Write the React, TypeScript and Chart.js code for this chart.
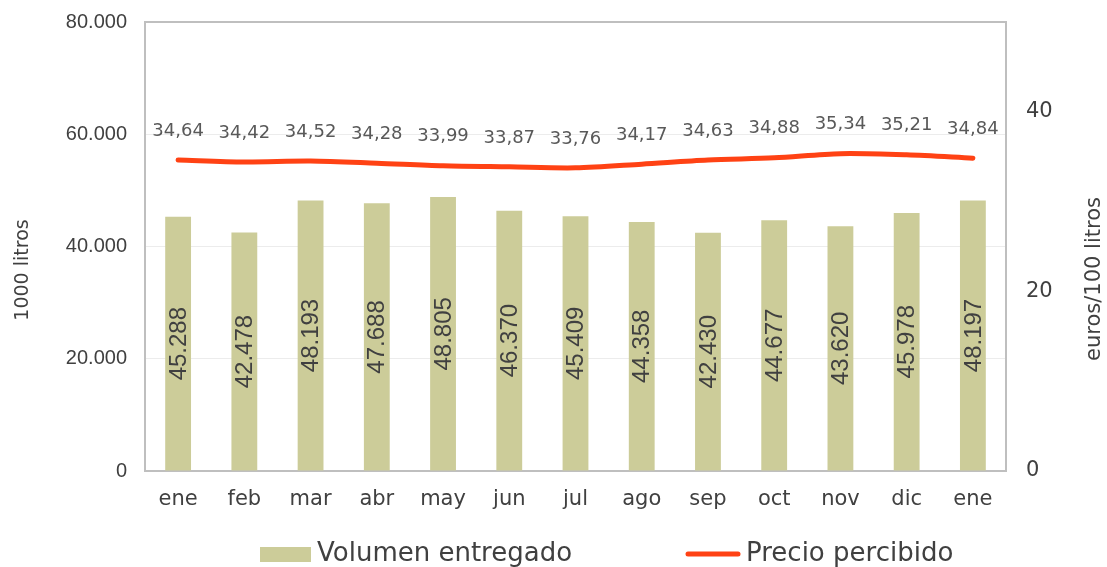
import React, { useEffect, useRef } from "react";
import { Chart, registerables } from "chart.js";

Chart.register(...registerables);

const months = ["ene", "feb", "mar", "abr", "may", "jun", "jul", "ago", "sep", "oct", "nov", "dic", "ene"];
const volumen = [45288, 42478, 48193, 47688, 48805, 46370, 45409, 44358, 42430, 44677, 43620, 45978, 48197];
const precio = [34.64, 34.42, 34.52, 34.28, 33.99, 33.87, 33.76, 34.17, 34.63, 34.88, 35.34, 35.21, 34.84];
const leftTicks = [0, 20000, 40000, 60000, 80000];
const rightTicks = [0, 20, 40];
const seriesNames = ["Volumen entregado", "Precio percibido"];
const axisTitles = ["1000 litros", "euros/100 litros"];

const BAR_COLOR = "#cccc99";
const LINE_COLOR = "#ff4214";
const TEXT = "#404040";
const BORDER = "#bfbfbf";
const GRID = "#ececec";

const fmtThousands = (n: number) => String(n).replace(/\B(?=(\d{3})+(?!\d))/g, ".");
const fmtDecimal = (n: number) => n.toFixed(2).replace(".", ",");

const extrasPlugin = {
  id: "extras",
  afterDatasetsDraw(chart: any) {
    const ctx = chart.ctx;
    ctx.save();
    const barMeta = chart.getDatasetMeta(0);
    ctx.fillStyle = TEXT;
    ctx.font = "24px 'Liberation Sans'";
    ctx.textAlign = "center";
    ctx.textBaseline = "middle";
    barMeta.data.forEach((el: any, i: number) => {
      const { x, y, base } = el.getProps(["x", "y", "base"], true);
      ctx.save();
      ctx.translate(x, (y + base) / 2);
      ctx.rotate(-Math.PI / 2);
      ctx.fillText(fmtThousands(volumen[i]), 0, 1);
      ctx.restore();
    });
    const lineMeta = chart.getDatasetMeta(1);
    ctx.fillStyle = "#595959";
    ctx.font = "18px 'DejaVu Sans'";
    lineMeta.data.forEach((el: any, i: number) => {
      ctx.fillText(fmtDecimal(precio[i]), el.x, el.y - 29);
    });
    ctx.restore();
  },
  afterDraw(chart: any) {
    const ctx = chart.ctx;
    ctx.save();
    ctx.fillStyle = TEXT;
    ctx.textAlign = "center";
    ctx.textBaseline = "middle";
    ctx.save();
    ctx.translate(23, 270);
    ctx.rotate(-Math.PI / 2);
    ctx.font = "19px 'DejaVu Sans'";
    ctx.fillText(axisTitles[0], 0, 0);
    ctx.restore();
    ctx.save();
    ctx.translate(1095, 279);
    ctx.rotate(-Math.PI / 2);
    ctx.font = "21px 'DejaVu Sans'";
    ctx.fillText(axisTitles[1], 0, 0);
    ctx.restore();
    ctx.font = "26px 'DejaVu Sans'";
    ctx.textAlign = "left";
    const ly = 554;
    let x = 260;
    ctx.fillStyle = BAR_COLOR;
    ctx.fillRect(x, ly - 7, 51, 15);
    x += 57;
    ctx.fillStyle = TEXT;
    ctx.fillText(seriesNames[0], x, ly);
    x += ctx.measureText(seriesNames[0]).width;
    x = Math.max(x + 100, 686);
    ctx.strokeStyle = LINE_COLOR;
    ctx.lineWidth = 5;
    ctx.lineCap = "round";
    ctx.beginPath();
    ctx.moveTo(x + 2, ly);
    ctx.lineTo(x + 52, ly);
    ctx.stroke();
    x += 60;
    ctx.fillStyle = TEXT;
    ctx.fillText(seriesNames[1], x, ly);
    ctx.restore();
  },
};

export default function App() {
  const canvasRef = useRef<HTMLCanvasElement | null>(null);

  useEffect(() => {
    document.body.style.margin = "0";
    const canvas = canvasRef.current;
    if (!canvas) return;
    const chart = new Chart(canvas, {
      type: "bar",
      data: {
        labels: months,
        datasets: [
          {
            type: "bar",
            label: seriesNames[0],
            data: volumen,
            backgroundColor: BAR_COLOR,
            borderWidth: 0,
            yAxisID: "y",
            categoryPercentage: 1,
            barPercentage: 0.39,
            order: 2,
          },
          {
            type: "line",
            label: seriesNames[1],
            data: precio,
            borderColor: LINE_COLOR,
            backgroundColor: LINE_COLOR,
            borderWidth: 5,
            borderCapStyle: "round",
            pointRadius: 0,
            tension: 0.3,
            yAxisID: "y1",
            order: 1,
          },
        ],
      },
      options: {
        animation: false,
        responsive: true,
        maintainAspectRatio: false,
        layout: { padding: { top: 22, bottom: 45, left: 0, right: 0 } },
        plugins: {
          legend: { display: false },
          tooltip: { enabled: false },
        },
        scales: {
          x: {
            grid: { display: false, drawTicks: false },
            border: { display: true, color: BORDER, width: 2 },
            ticks: {
              color: TEXT,
              font: { family: "'DejaVu Sans'", size: 21 },
              padding: 16,
              maxRotation: 0,
            },
            afterFit: (s: any) => {
              s.height = 51;
            },
          },
          y: {
            position: "left",
            min: 0,
            max: 80000,
            afterBuildTicks: (s: any) => {
              s.ticks = leftTicks.map((v) => ({ value: v }));
            },
            grid: {
              drawTicks: false,
              color: (c: any) => (c.tick && c.tick.value === 80000 ? BORDER : GRID),
              lineWidth: (c: any) => (c.tick && c.tick.value === 80000 ? 2 : 1),
            },
            border: { display: true, color: BORDER, width: 2 },
            ticks: {
              color: TEXT,
              font: { family: "'Liberation Sans'", size: 20 },
              padding: 18,
              callback: (v: any) => fmtThousands(Number(v)),
            },
            afterFit: (s: any) => {
              s.width = 145;
              s.paddingTop = 12;
              s.paddingBottom = 12;
            },
          },
          y1: {
            position: "right",
            min: 0,
            max: 50,
            afterBuildTicks: (s: any) => {
              s.ticks = rightTicks.map((v) => ({ value: v }));
            },
            grid: { display: false, drawTicks: false },
            border: { display: true, color: BORDER, width: 2 },
            ticks: {
              color: TEXT,
              font: { family: "'DejaVu Sans'", size: 21 },
              padding: 20,
              callback: (v: any) => String(v),
            },
            afterFit: (s: any) => {
              s.width = 101;
              s.paddingTop = 12;
              s.paddingBottom = 12;
            },
          },
        },
      },
      plugins: [extrasPlugin],
    });
    return () => chart.destroy();
  }, []);

  return (
    <div style={{ position: "relative", width: 1107, height: 567 }}>
      <canvas ref={canvasRef} />
    </div>
  );
}
